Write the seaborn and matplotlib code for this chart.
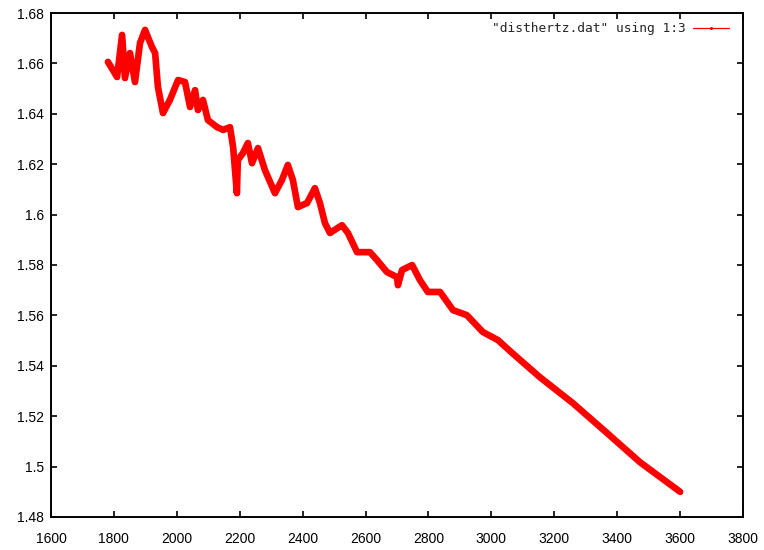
import matplotlib
matplotlib.use("Agg")
import matplotlib.pyplot as plt
from matplotlib.lines import Line2D
from matplotlib.ticker import FuncFormatter, MultipleLocator
import seaborn as sns
import pandas as pd

# column 1 of disthertz.dat
step = [1781, 1810, 1826, 1835, 1851, 1867, 1883, 1899, 1908, 1921,
        1931, 1940, 1956, 1978, 2004, 2026, 2042, 2058, 2067, 2083,
        2099, 2128, 2147, 2169, 2179, 2191, 2194, 2210, 2226, 2239,
        2258, 2280, 2312, 2334, 2353, 2369, 2385, 2414, 2439, 2455,
        2471, 2487, 2525, 2544, 2573, 2614, 2636, 2668, 2700, 2703,
        2716, 2748, 2773, 2798, 2837, 2878, 2922, 2973, 3021, 3066,
        3154, 3259, 3368, 3472, 3600]

# column 3 of disthertz.dat
value = [1.6606, 1.6546, 1.6713, 1.6542, 1.6641, 1.6526, 1.6681, 1.6733, 1.6705, 1.6665,
         1.6641, 1.6506, 1.6403, 1.6455, 1.6534, 1.6526, 1.6427, 1.6494, 1.6415, 1.6455,
         1.6375, 1.6347, 1.6336, 1.6347, 1.6268, 1.6085, 1.6216, 1.6244, 1.6284, 1.6204,
         1.6264, 1.6177, 1.6085, 1.6137, 1.6197, 1.6137, 1.6030, 1.6046, 1.6105, 1.6046,
         1.5966, 1.5927, 1.5958, 1.5927, 1.5851, 1.5851, 1.5820, 1.5772, 1.5752, 1.5720,
         1.5780, 1.5800, 1.5740, 1.5693, 1.5693, 1.5621, 1.5601, 1.5534, 1.5502, 1.5451,
         1.5355, 1.5252, 1.5133, 1.5018, 1.4900]

series_label = '"disthertz.dat" using 1:3'
x_ticks = [1600, 1800, 2000, 2200, 2400, 2600, 2800, 3000, 3200, 3400, 3600, 3800]

sns.set_style("ticks")
plt.rcParams["font.family"] = ["Liberation Sans", "DejaVu Sans"]

df = pd.DataFrame({"step": step, "value": value})

fig = plt.figure(figsize=(7.64, 5.50), dpi=100)
ax = fig.add_axes([51 / 764, 33 / 550, 692 / 764, 504 / 550])

sns.lineplot(data=df, x="step", y="value", ax=ax, color="#ff0000",
             linewidth=4.8, marker="o", markersize=3.5, markeredgewidth=0,
             sort=False, legend=False)

ax.set_xlim(1600, 3800)
ax.set_ylim(1.48, 1.68)
ax.set_xticks(x_ticks)
ax.yaxis.set_major_locator(MultipleLocator(0.02))
ax.yaxis.set_major_formatter(FuncFormatter(lambda v, _: "%g" % round(v, 4)))
ax.set_xlabel("")
ax.set_ylabel("")

for side in ax.spines.values():
    side.set_linewidth(1.4)
    side.set_color("black")

ax.tick_params(axis="both", direction="in", length=4, width=1.2,
               top=True, right=True, labelsize=10, colors="black")
ax.tick_params(axis="x", pad=11)
ax.tick_params(axis="y", pad=5)

handle = Line2D([], [], color="#ff0000", linewidth=0.9, marker="o",
                markersize=2.2, markeredgewidth=0)
ax.legend([handle], [series_label], loc="upper right", frameon=False,
          markerfirst=False, handlelength=2.8, handletextpad=0.55,
          borderaxespad=0.3, bbox_to_anchor=(0.993, 1.0),
          prop={"family": "DejaVu Sans Mono", "size": 9.3})

fig.savefig("out.png", dpi=100, facecolor="white")
